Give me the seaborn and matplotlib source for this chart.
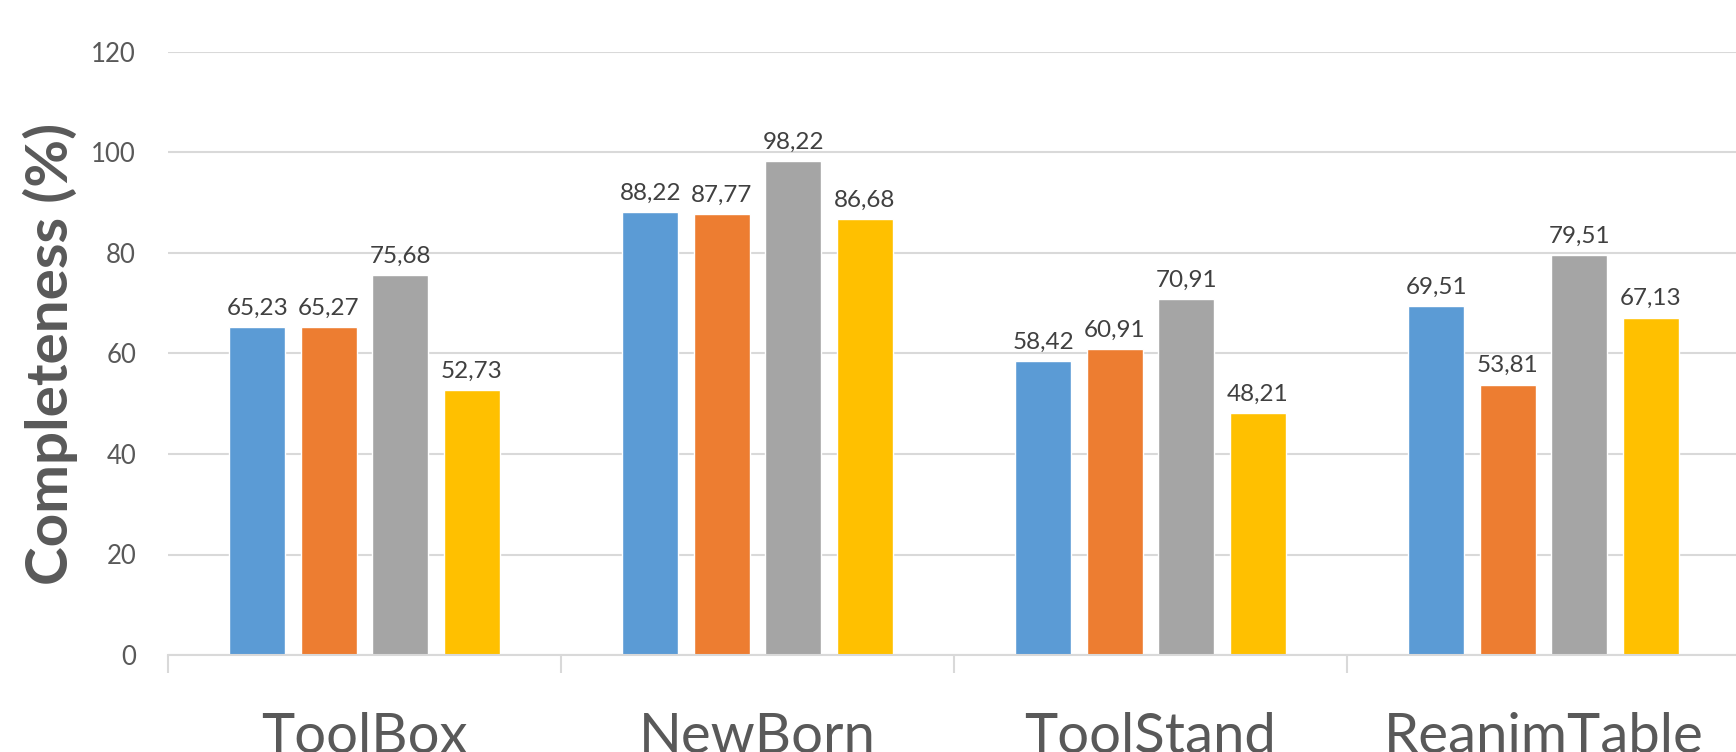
import matplotlib
matplotlib.use("Agg")
import matplotlib.pyplot as plt
import seaborn as sns
import pandas as pd

categories = ["ToolBox", "NewBorn", "ToolStand", "ReanimTable"]
series_names = ["Series 1", "Series 2", "Series 3", "Series 4"]
series_1 = [65.23, 88.22, 58.42, 69.51]
series_2 = [65.27, 87.77, 60.91, 53.81]
series_3 = [75.68, 98.22, 70.91, 79.51]
series_4 = [52.73, 86.68, 48.21, 67.13]
y_ticks = [0, 20, 40, 60, 80, 100, 120]
colors = ["#5B9BD5", "#ED7D31", "#A5A5A5", "#FFC000"]

rows = []
for name, vals in zip(series_names, [series_1, series_2, series_3, series_4]):
    for c, v in zip(categories, vals):
        rows.append({"category": c, "series": name, "value": v})
df = pd.DataFrame(rows)

sns.set_theme(style="white")
plt.rcParams["font.family"] = ["Lato", "DejaVu Sans"]

fig = plt.figure(figsize=(17.36, 7.52), dpi=100)
ax_w = 1740 - 168
ax = fig.add_axes([168 / 1736, 1 - 655 / 752, ax_w / 1736, (655 - 52) / 752])

sns.barplot(data=df, x="category", y="value", hue="series", order=categories,
            hue_order=series_names, palette=colors, width=0.728, gap=0.217,
            saturation=1, ax=ax, legend=False, errorbar=None)

for cont in ax.containers:
    ax.bar_label(cont, fmt=lambda v: f"{v:.2f}".replace(".", ","),
                 padding=6, fontsize=17.5, color="#404040")

ax.set_ylim(0, 120)
ax.set_xlim(-0.5, len(categories) - 0.5)
ax.set_yticks(y_ticks)
ax.set_yticklabels([str(t) for t in y_ticks])
ax.yaxis.grid(True, color="#D9D9D9", linewidth=1.5)
ax.set_axisbelow(True)
for s in ["left", "right", "top"]:
    ax.spines[s].set_visible(False)
ax.spines["bottom"].set_color("#D9D9D9")
ax.spines["bottom"].set_linewidth(1.5)

ax.tick_params(axis="y", length=0, pad=23, labelsize=18.5, labelcolor="#595959")
ax.tick_params(axis="x", which="major", bottom=True, length=0, pad=41,
               labelsize=40.5, labelcolor="#595959")
ax.set_xticks([i - 0.5 for i in range(len(categories) + 1)], minor=True)
ax.tick_params(axis="x", which="minor", bottom=True, length=13, width=1.5,
               color="#D9D9D9", direction="out")

ax.set_xlabel("")
ax.set_ylabel("Completeness (%)", fontsize=42, fontweight="bold", color="#595959")
ax.yaxis.set_label_coords((78 - 168) / ax_w, 0.5)

fig.savefig("out.png", dpi=100)
